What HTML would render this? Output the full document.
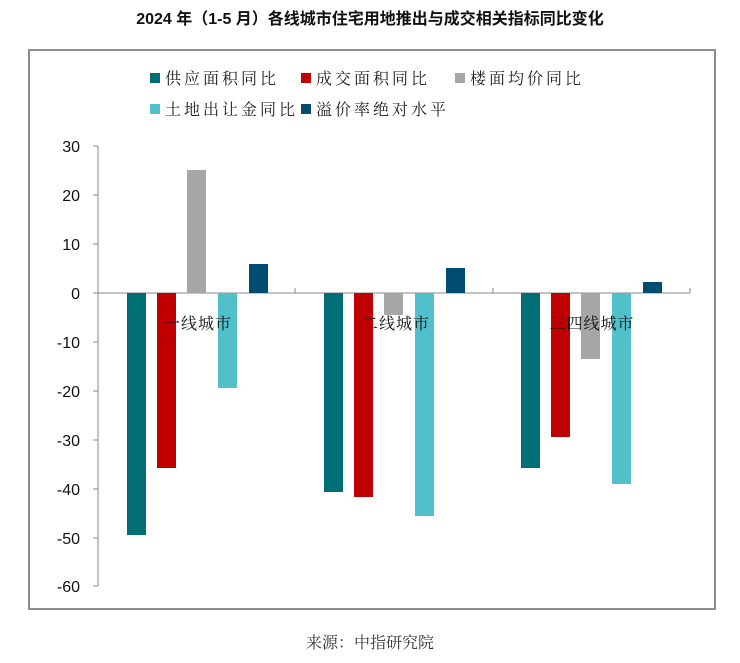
<!DOCTYPE html>
<html><head><meta charset="utf-8"><style>
body{margin:0;background:#fff;width:740px;height:658px;overflow:hidden;font-family:"Liberation Sans","Noto Sans CJK SC",sans-serif}
</style></head><body>
<svg width="740" height="658" xmlns="http://www.w3.org/2000/svg">
<text x="370" y="24" text-anchor="middle" font-size="16" font-weight="bold" font-family="Liberation Sans,Noto Sans CJK SC,sans-serif" fill="#111">2024 年（1-5 月）各线城市住宅用地推出与成交相关指标同比变化</text>
<rect x="29" y="50" width="686" height="559" fill="none" stroke="#8c8c8c" stroke-width="2"/>
<g font-family="Noto Serif CJK SC,serif" font-size="16" fill="#222" letter-spacing="3">
<rect x="150" y="73" width="10" height="10" fill="#006E74"/><text x="165" y="84">供应面积同比</text>
<rect x="301" y="73" width="10" height="10" fill="#C00000"/><text x="316" y="84">成交面积同比</text>
<rect x="455" y="73" width="10" height="10" fill="#A6A6A6"/><text x="470" y="84">楼面均价同比</text>
<rect x="150" y="104" width="10" height="10" fill="#51C0CA"/><text x="165" y="115">土地出让金同比</text>
<rect x="301" y="104" width="10" height="10" fill="#004D71"/><text x="316" y="115">溢价率绝对水平</text>
</g>
<g stroke="#888" stroke-width="1">
<line x1="98" y1="146" x2="98" y2="586"/>
<line x1="98" y1="293" x2="690" y2="293"/>
<line x1="93" y1="146" x2="98" y2="146"/><line x1="93" y1="195" x2="98" y2="195"/><line x1="93" y1="244" x2="98" y2="244"/><line x1="93" y1="293" x2="98" y2="293"/><line x1="93" y1="342" x2="98" y2="342"/><line x1="93" y1="391" x2="98" y2="391"/><line x1="93" y1="440" x2="98" y2="440"/><line x1="93" y1="489" x2="98" y2="489"/><line x1="93" y1="538" x2="98" y2="538"/><line x1="93" y1="586" x2="98" y2="586"/>
<line x1="295" y1="288" x2="295" y2="293"/><line x1="493" y1="288" x2="493" y2="293"/><line x1="690" y1="288" x2="690" y2="293"/>
</g>
<g font-size="16" fill="#111" text-anchor="end">
<text x="80" y="152">30</text><text x="80" y="201">20</text><text x="80" y="250">10</text><text x="80" y="299">0</text><text x="80" y="348">-10</text><text x="80" y="397">-20</text><text x="80" y="446">-30</text><text x="80" y="495">-40</text><text x="80" y="544">-50</text><text x="80" y="592">-60</text>
</g>
<!-- group1 -->
<rect x="127" y="293" width="19" height="242" fill="#006E74"/>
<rect x="157" y="293" width="19" height="175" fill="#C00000"/>
<rect x="187" y="170" width="19" height="123" fill="#A6A6A6"/>
<rect x="218" y="293" width="19" height="95" fill="#51C0CA"/>
<rect x="249" y="264" width="19" height="29" fill="#004D71"/>
<!-- group2 -->
<rect x="324" y="293" width="19" height="199" fill="#006E74"/>
<rect x="354" y="293" width="19" height="204" fill="#C00000"/>
<rect x="384" y="293" width="19" height="22" fill="#A6A6A6"/>
<rect x="415" y="293" width="19" height="223" fill="#51C0CA"/>
<rect x="446" y="268" width="19" height="25" fill="#004D71"/>
<!-- group3 -->
<rect x="521" y="293" width="19" height="175" fill="#006E74"/>
<rect x="551" y="293" width="19" height="144" fill="#C00000"/>
<rect x="581" y="293" width="19" height="66" fill="#A6A6A6"/>
<rect x="612" y="293" width="19" height="191" fill="#51C0CA"/>
<rect x="643" y="282" width="19" height="11" fill="#004D71"/>
<g font-family="Noto Serif CJK SC,serif" font-size="16" fill="#111" text-anchor="middle" letter-spacing="1">
<text x="198" y="329">一线城市</text><text x="396" y="329">二线城市</text><text x="592" y="329">三四线城市</text>
</g>
<text x="370" y="648" text-anchor="middle" font-family="Noto Serif CJK SC,serif" font-size="16" fill="#333">来源：中指研究院</text>
</svg>
</body></html>
